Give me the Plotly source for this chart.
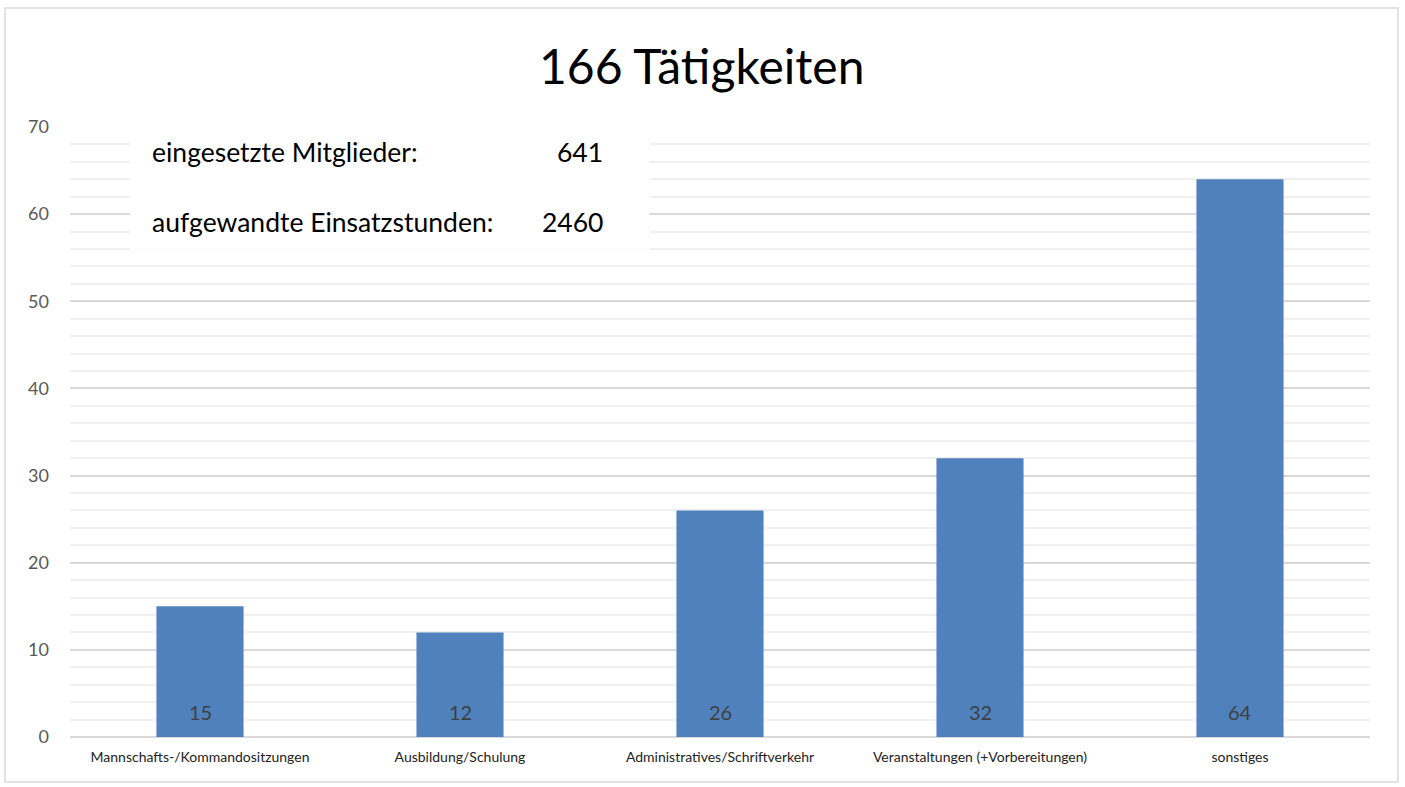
import plotly.graph_objects as go

categories = ["Mannschafts-/Kommandositzungen", "Ausbildung/Schulung",
              "Administratives/Schriftverkehr", "Veranstaltungen (+Vorbereitungen)", "sonstiges"]
values = [15, 12, 26, 32, 64]
title_text = "166 Tätigkeiten"
info_labels = ["eingesetzte Mitglieder:", "aufgewandte Einsatzstunden:"]
info_values = ["641", "2460"]
y_ticks = [0, 10, 20, 30, 40, 50, 60, 70]

FONT = "Lato, 'Open Sans', sans-serif"

fig = go.Figure(go.Bar(
    x=categories, y=values,
    marker=dict(color="#4f81bd", line=dict(width=0)),
    width=0.335,
))

for c, v in zip(categories, values):
    fig.add_annotation(x=c, y=0, text=str(v), showarrow=False, yanchor="middle", yshift=25,
                       font=dict(size=20, color="#404040", family=FONT))

fig.update_layout(
    width=1405, height=787,
    margin=dict(l=70, r=35, t=127, b=50),
    paper_bgcolor="white", plot_bgcolor="white",
    showlegend=False,
    font=dict(family=FONT),
)
fig.update_yaxes(
    range=[0, 70], tickvals=y_ticks, showgrid=True, gridcolor="#d9d9d9", gridwidth=1.5,
    zeroline=True, zerolinecolor="#d9d9d9", zerolinewidth=1.5,
    tickfont=dict(size=18, color="#595959", family=FONT),
    ticks="", ticklabelstandoff=20,
    minor=dict(dtick=2, showgrid=True, gridcolor="#f0f0f0", gridwidth=1.5),
)
fig.update_xaxes(
    tickfont=dict(size=14, color="#222222", family=FONT), ticks="",
    showline=False, ticklabelstandoff=10,
)

# outer border
fig.add_shape(type="rect", xref="paper", yref="paper", x0=-0.05, x1=1.0215, y0=-0.0738, y1=1.195,
              line=dict(color="#d9d9d9", width=1.5), fillcolor="rgba(0,0,0,0)", layer="below")
# white info box
fig.add_shape(type="rect", xref="paper", yref="y", x0=0.0462, x1=0.446, y0=55.9, y1=69.9,
              line=dict(width=0), fillcolor="white", layer="above")

for i, (lab, val) in enumerate(zip(info_labels, info_values)):
    yv = [67.1, 59.1][i]
    fig.add_annotation(xref="paper", yref="y", x=0.0615, y=yv, text=lab, showarrow=False,
                       xanchor="left", yanchor="middle", font=dict(size=26.5, color="#000000", family=FONT))
    fig.add_annotation(xref="paper", yref="y", x=0.4115, y=yv, text=val, showarrow=False,
                       xanchor="right", yanchor="middle", font=dict(size=26.5, color="#000000", family=FONT))

fig.add_annotation(xref="paper", yref="paper", x=0.486, y=1.1016, text=title_text, showarrow=False,
                   xanchor="center", yanchor="middle", font=dict(size=48, color="#000000", family=FONT))

fig.write_html("out.html", config={"displayModeBar": False},
               post_script="document.body.style.margin='0';")
